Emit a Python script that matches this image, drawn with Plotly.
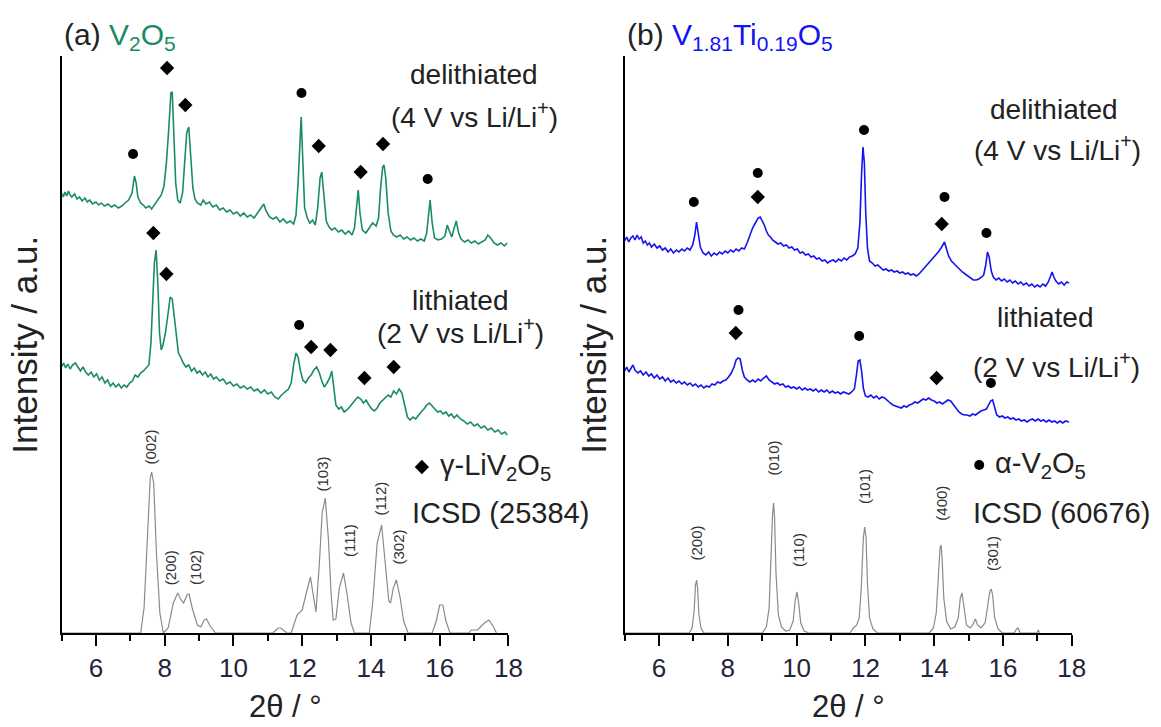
import plotly.graph_objects as go

# ---------------- data (2theta in deg, intensity in a.u., offsets included) ----------------
# Panel (a) V2O5, delithiated
a_del_x = [5.00,5.05,5.10,5.15,5.20,5.25,5.30,5.38,5.45,5.52,5.60,5.68,5.75,5.82,5.90,6.00,6.08,6.15,6.25,6.35,6.45,6.55,6.65,6.75,6.85,6.95,7.05,7.12,7.17,7.22,7.30,7.38,7.45,7.55,7.62,7.70,7.80,7.90,7.98,8.05,8.12,8.18,8.22,8.27,8.32,8.38,8.45,8.52,8.58,8.64,8.70,8.76,8.82,8.88,8.95,9.05,9.12,9.20,9.30,9.40,9.50,9.60,9.70,9.80,9.90,10.00,10.10,10.20,10.30,10.40,10.50,10.60,10.70,10.80,10.88,10.95,11.05,11.15,11.25,11.35,11.45,11.55,11.65,11.75,11.82,11.88,11.93,11.97,12.02,12.07,12.15,12.22,12.30,12.38,12.45,12.52,12.57,12.63,12.70,12.78,12.86,12.95,13.05,13.15,13.25,13.35,13.45,13.52,13.58,13.63,13.68,13.75,13.85,13.95,14.05,14.15,14.22,14.28,14.34,14.38,14.43,14.50,14.58,14.65,14.75,14.85,14.95,15.05,15.15,15.25,15.35,15.45,15.55,15.62,15.68,15.72,15.78,15.85,15.95,16.05,16.15,16.22,16.28,16.35,16.42,16.48,16.55,16.62,16.72,16.82,16.92,17.02,17.12,17.22,17.32,17.40,17.48,17.58,17.68,17.78,17.88,17.96]
a_del_y = [440,436,441,437,442,438,436,439,434,436,432,435,431,433,429,431,428,430,427,429,426,428,425,427,430,433,440,457,450,436,430,428,425,427,424,428,432,438,447,470,505,540,541,500,450,433,430,440,470,500,506,470,445,434,430,428,433,429,431,426,428,423,425,421,423,419,421,417,420,416,418,415,420,424,429,422,416,414,416,411,414,410,412,409,418,450,490,516,470,425,415,410,413,408,425,455,461,440,412,406,403,405,401,403,399,402,398,405,430,443,420,403,400,405,410,407,415,445,466,468,455,420,402,398,396,398,394,396,393,395,392,394,392,400,425,433,410,395,393,394,397,408,402,396,405,412,400,394,391,393,390,392,389,391,393,398,395,390,388,390,387,390]

# Panel (a) V2O5, lithiated
a_lit_x = [5.00,5.06,5.12,5.18,5.25,5.32,5.40,5.48,5.55,5.62,5.70,5.78,5.86,5.94,6.02,6.10,6.18,6.26,6.34,6.42,6.50,6.58,6.66,6.74,6.82,6.90,6.98,7.06,7.14,7.22,7.30,7.38,7.46,7.54,7.60,7.65,7.70,7.75,7.80,7.85,7.90,7.95,8.02,8.10,8.16,8.22,8.28,8.34,8.40,8.46,8.54,8.62,8.70,8.78,8.86,8.94,9.02,9.10,9.18,9.26,9.34,9.42,9.50,9.60,9.70,9.80,9.90,10.00,10.10,10.20,10.30,10.40,10.50,10.60,10.70,10.80,10.90,11.00,11.10,11.20,11.30,11.40,11.50,11.60,11.68,11.75,11.82,11.88,11.95,12.02,12.10,12.18,12.26,12.34,12.42,12.50,12.57,12.64,12.72,12.80,12.86,12.92,12.98,13.06,13.14,13.22,13.30,13.38,13.46,13.54,13.62,13.70,13.78,13.86,13.94,14.02,14.10,14.18,14.26,14.34,14.42,14.50,14.58,14.66,14.74,14.82,14.90,14.98,15.06,15.14,15.22,15.30,15.38,15.46,15.54,15.62,15.70,15.78,15.86,15.94,16.02,16.10,16.18,16.26,16.34,16.42,16.50,16.60,16.70,16.80,16.90,17.00,17.10,17.20,17.30,17.40,17.50,17.60,17.70,17.80,17.90,17.96]
a_lit_y = [266,270,265,269,264,268,270,266,262,266,261,258,261,256,259,253,256,250,253,247,250,246,249,245,248,246,250,252,258,256,260,262,265,268,290,330,370,383,350,300,283,288,300,320,336,334,315,295,280,276,270,266,268,262,265,260,262,258,261,256,259,254,256,252,254,249,251,247,249,245,247,244,246,242,244,240,243,239,241,236,234,238,241,244,250,268,280,276,262,253,250,255,258,263,266,260,252,246,250,255,262,245,228,224,226,221,223,226,230,233,236,234,230,233,228,224,222,225,230,233,236,238,236,242,239,244,240,228,216,213,216,214,218,221,224,228,230,227,224,221,222,219,221,217,219,215,218,214,212,209,211,207,209,205,207,203,205,201,203,199,201,198]

# Panel (a) reference: gamma-LiV2O5, ICSD (25384)
a_ref_x = [5.00,7.30,7.40,7.50,7.58,7.62,7.68,7.76,7.86,7.96,8.10,8.25,8.38,8.48,8.55,8.65,8.71,8.80,8.95,9.05,9.15,9.22,9.32,9.48,11.15,11.30,11.38,11.55,11.68,11.85,12.00,12.12,12.24,12.32,12.40,12.50,12.58,12.67,12.76,12.84,12.90,12.98,13.08,13.20,13.30,13.42,13.52,13.95,14.05,14.18,14.31,14.40,14.52,14.57,14.65,14.74,14.85,14.95,15.08,15.78,15.90,16.00,16.09,16.18,16.30,16.85,16.92,17.10,17.30,17.43,17.55,17.65]
a_ref_y = [0,0,25,95,155,161,150,80,20,0,5,30,40,33,30,38,39,25,8,6,13,14,7,0,0,5,5,0,0,18,23,40,56,38,21,70,120,135,95,40,13,14,45,60,40,10,0,0,30,90,108,75,32,30,45,53,35,12,0,0,12,28,28,12,0,0,3,3,10,13,7,0]
a_hkl = ["(002)", "(200)", "(102)", "(103)", "(111)", "(112)", "(302)"]
a_hkl_x = [7.56, 8.16, 8.88, 12.59, 13.36, 14.25, 14.80]
a_hkl_y = [186, 65, 66, 159, 93, 134, 86]

# Panel (a) phase markers
a_dia_x = [8.07, 8.60, 12.48, 13.70, 14.35, 7.67, 8.05, 12.26, 12.82, 13.81, 14.66]
a_dia_y = [565, 528, 487, 461, 489, 400, 359, 286, 283, 255, 266]
a_dot_x = [7.08, 11.98, 15.65, 11.91]
a_dot_y = [479, 540, 454, 308]

# Panel (b) V1.81Ti0.19O5, delithiated
b_del_x = [5.00,5.06,5.12,5.18,5.24,5.30,5.36,5.42,5.48,5.54,5.60,5.66,5.72,5.78,5.86,5.94,6.02,6.10,6.18,6.26,6.34,6.42,6.50,6.58,6.66,6.74,6.82,6.90,6.98,7.04,7.09,7.14,7.20,7.28,7.36,7.44,7.52,7.60,7.68,7.76,7.84,7.92,8.00,8.08,8.16,8.24,8.32,8.40,8.48,8.56,8.64,8.72,8.80,8.88,8.94,9.00,9.06,9.12,9.18,9.24,9.30,9.38,9.46,9.54,9.62,9.70,9.78,9.86,9.94,10.02,10.10,10.18,10.26,10.34,10.42,10.50,10.58,10.66,10.74,10.82,10.90,10.98,11.06,11.14,11.22,11.30,11.38,11.46,11.54,11.62,11.70,11.78,11.84,11.89,11.93,11.97,12.01,12.06,12.12,12.20,12.28,12.36,12.44,12.52,12.60,12.68,12.76,12.84,12.92,13.00,13.08,13.16,13.24,13.32,13.40,13.48,13.56,13.64,13.72,13.80,13.88,13.96,14.04,14.12,14.20,14.26,14.30,14.36,14.42,14.50,14.58,14.66,14.74,14.82,14.90,14.98,15.06,15.14,15.22,15.30,15.38,15.44,15.50,15.55,15.60,15.66,15.72,15.80,15.88,15.96,16.04,16.12,16.20,16.28,16.36,16.44,16.52,16.60,16.68,16.76,16.84,16.92,17.00,17.08,17.16,17.24,17.32,17.38,17.43,17.48,17.54,17.62,17.70,17.78,17.86,17.92]
b_del_y = [392,396,391,395,397,393,398,394,396,390,392,388,390,386,389,385,387,383,385,381,384,380,383,381,384,382,385,383,388,398,411,400,386,380,378,381,377,380,378,381,379,382,380,383,381,384,382,385,384,390,398,405,410,415,416,412,408,402,398,396,393,391,389,390,387,388,385,386,383,384,380,381,378,379,376,377,374,375,372,373,370,372,373,371,374,372,375,373,376,377,379,385,410,460,486,470,420,385,372,370,367,368,365,363,364,362,363,361,362,360,361,359,360,358,359,357,359,362,366,368,371,374,378,381,385,389,391,384,377,372,369,366,363,361,359,357,355,353,353,354,356,358,368,381,376,362,356,353,355,352,354,351,353,350,352,349,351,348,350,347,349,346,348,346,349,347,351,356,361,356,352,349,351,348,351,350]

# Panel (b) V1.81Ti0.19O5, lithiated
b_lit_x = [5.00,5.06,5.12,5.18,5.24,5.30,5.38,5.46,5.54,5.62,5.70,5.78,5.86,5.94,6.02,6.10,6.18,6.26,6.34,6.42,6.50,6.58,6.66,6.74,6.82,6.90,6.98,7.06,7.14,7.22,7.30,7.38,7.46,7.54,7.62,7.70,7.78,7.86,7.94,8.02,8.10,8.18,8.24,8.30,8.36,8.42,8.48,8.56,8.64,8.72,8.80,8.88,8.96,9.04,9.12,9.20,9.28,9.36,9.44,9.52,9.60,9.68,9.76,9.84,9.92,10.00,10.08,10.16,10.24,10.32,10.40,10.48,10.56,10.64,10.72,10.80,10.88,10.96,11.04,11.12,11.20,11.28,11.36,11.44,11.52,11.60,11.68,11.74,11.79,11.84,11.89,11.94,12.00,12.08,12.16,12.24,12.32,12.40,12.48,12.56,12.64,12.72,12.80,12.88,12.96,13.04,13.12,13.20,13.28,13.36,13.44,13.52,13.60,13.68,13.76,13.84,13.92,14.00,14.08,14.16,14.24,14.32,14.40,14.48,14.56,14.64,14.72,14.80,14.88,14.96,15.04,15.12,15.20,15.28,15.36,15.44,15.52,15.58,15.64,15.70,15.76,15.82,15.90,15.98,16.06,16.14,16.22,16.30,16.38,16.46,16.54,16.62,16.70,16.78,16.86,16.94,17.02,17.10,17.18,17.26,17.34,17.42,17.50,17.58,17.66,17.74,17.82,17.92]
b_lit_y = [262,266,261,265,268,263,260,262,258,261,257,259,255,258,254,256,252,255,251,253,250,252,249,251,248,250,247,249,246,248,245,247,246,249,248,251,250,252,253,256,260,266,273,275,274,263,256,253,251,253,251,254,252,255,257,253,251,249,250,248,249,246,247,245,246,244,246,243,245,243,244,242,244,241,243,241,243,240,242,240,241,239,241,240,239,241,244,258,272,273,262,245,237,236,238,235,237,234,236,235,232,230,228,227,226,225,227,226,228,229,231,230,232,234,233,235,233,232,230,231,229,231,233,232,228,224,221,219,218,218,217,219,218,220,222,223,224,228,232,233,226,218,216,217,215,216,214,215,213,214,212,213,211,213,214,212,214,212,213,211,213,211,212,210,212,210,212,211]

# Panel (b) reference: alpha-V2O5, ICSD (60676)
b_ref_x = [5.00,6.88,6.96,7.02,7.06,7.09,7.12,7.16,7.22,7.30,9.00,9.12,9.20,9.26,9.30,9.33,9.36,9.40,9.47,9.56,9.68,9.80,9.90,9.96,10.01,10.06,10.12,10.22,10.35,11.55,11.65,11.75,11.82,11.88,11.94,11.98,12.02,12.06,12.12,12.22,12.35,13.85,13.98,14.06,14.12,14.17,14.20,14.23,14.28,14.36,14.48,14.60,14.70,14.76,14.81,14.86,14.94,15.05,15.12,15.20,15.26,15.36,15.48,15.56,15.62,15.66,15.70,15.76,15.86,15.98,16.32,16.40,16.44,16.50,16.98,17.03,17.06]
b_ref_y = [0,0,5,22,48,53,45,18,5,0,0,6,25,90,118,130,115,60,18,6,2,3,12,33,41,30,10,2,0,0,5,8,15,45,95,106,95,50,15,4,0,0,5,20,60,85,88,75,35,12,4,6,15,35,40,28,8,5,8,14,8,5,10,28,42,44,38,15,4,0,0,4,5,0,0,3,0]
b_hkl = ["(200)", "(010)", "(110)", "(101)", "(400)", "(301)"]
b_hkl_x = [7.06, 9.30, 10.04, 11.96, 14.19, 15.68]
b_hkl_y = [90, 175, 83, 146, 130, 80]

# Panel (b) phase markers
b_dot_x = [7.01, 8.87, 11.96, 14.30, 15.52, 8.31, 11.82, 15.65]
b_dot_y = [431, 460, 503, 436, 400, 323, 297, 250]
b_dia_x = [8.87, 14.22, 8.23, 14.07]
b_dia_y = [436, 409, 300, 255]

# ---------------- style ----------------
GREEN = "#1a8c62"
BLUE = "#1414f0"
GRAY = "#8a8a8a"
TXT = "#222222"
FONT = "Liberation Sans, Arial, sans-serif"

fig = go.Figure()

def line(x, y, color, w, xa, ya):
    fig.add_trace(go.Scatter(x=x, y=y, mode="lines", line=dict(color=color, width=w),
                             xaxis=xa, yaxis=ya, showlegend=False, hoverinfo="skip"))

def marks(x, y, symbol, size, xa, ya):
    fig.add_trace(go.Scatter(x=x, y=y, mode="markers",
                             marker=dict(symbol=symbol, size=size, color="black", line=dict(width=0)),
                             xaxis=xa, yaxis=ya, showlegend=False, hoverinfo="skip", cliponaxis=False))

line(a_ref_x, a_ref_y, GRAY, 1.2, "x", "y")
line(a_lit_x, a_lit_y, GREEN, 1.6, "x", "y")
line(a_del_x, a_del_y, GREEN, 1.6, "x", "y")
marks(a_dia_x, a_dia_y, "diamond", 11, "x", "y")
marks(a_dot_x, a_dot_y, "circle", 10, "x", "y")
marks([15.48], [166], "diamond", 11, "x", "y")

line(b_ref_x, b_ref_y, GRAY, 1.2, "x2", "y2")
line(b_lit_x, b_lit_y, BLUE, 1.6, "x2", "y2")
line(b_del_x, b_del_y, BLUE, 1.6, "x2", "y2")
marks(b_dot_x, b_dot_y, "circle", 10, "x2", "y2")
marks(b_dia_x, b_dia_y, "diamond", 11, "x2", "y2")
marks([15.31], [168], "circle", 10, "x2", "y2")

W, H = 1161, 727
def px(xp): return xp / W
def py(yp): return (H - yp) / H

xcommon = dict(range=[5, 18], tickvals=[6, 8, 10, 12, 14, 16, 18], ticks="outside", ticklen=11,
               tickwidth=1.5, tickcolor="black", showline=True, linecolor="black", linewidth=1.5,
               showgrid=False, zeroline=False, tickfont=dict(size=26, color="#24243a", family=FONT),
               minor=dict(tickvals=[5, 7, 9, 11, 13, 15, 17], ticks="outside", ticklen=6,
                          tickwidth=1.5, tickcolor="black", showgrid=False),
               fixedrange=True)
ycommon = dict(range=[0, 577], showticklabels=False, ticks="", showline=True, linecolor="black",
               linewidth=1.5, showgrid=False, zeroline=False, fixedrange=True)

fig.update_layout(
    width=W, height=H, margin=dict(l=0, r=0, t=0, b=0),
    paper_bgcolor="white", plot_bgcolor="white",
    font=dict(family=FONT, color=TXT, size=26),
    xaxis=dict(domain=[px(62.3), px(514.7)], anchor="y", **xcommon),
    yaxis=dict(domain=[py(633), py(56)], anchor="x", **ycommon),
    xaxis2=dict(domain=[px(632.3), px(1084.8)], anchor="y2", **xcommon),
    yaxis2=dict(domain=[py(633), py(56)], anchor="x2", **ycommon),
)

ann = []
def A(text, x, y, xref, yref, size=28, xanchor="center", yanchor="middle", angle=0, color=TXT):
    ann.append(dict(text=text, x=x, y=y, xref=xref, yref=yref, showarrow=False, xanchor=xanchor,
                    yanchor=yanchor, textangle=angle, font=dict(size=size, color=color, family=FONT)))

# panel titles
A("(a) <span style='color:%s'>V<sub>2</sub>O<sub>5</sub></span>" % GREEN, px(63), py(37), "paper", "paper", size=30, xanchor="left")
A("(b) <span style='color:%s'>V<sub>1.81</sub>Ti<sub>0.19</sub>O<sub>5</sub></span>" % BLUE, px(633), py(37), "paper", "paper", size=30, xanchor="left")

# axis titles
for xc in (24, 600):
    A("Intensity / a.u.", px(xc), py(345), "paper", "paper", size=35, angle=-90)
for xc in (288.5, 858.5):
    A("2θ / °", px(xc), py(706), "paper", "paper", size=31)

# sample labels
A("delithiated", 17.0, 558, "x", "y")
A("(4 V vs Li/Li<sup>+</sup>)", 17.0, 518, "x", "y")
A("lithiated", 16.6, 333, "x", "y")
A("(2 V vs Li/Li<sup>+</sup>)", 16.6, 302, "x", "y")
A("delithiated", 17.49, 523, "x2", "y2")
A("(4 V vs Li/Li<sup>+</sup>)", 17.60, 485, "x2", "y2")
A("lithiated", 17.23, 316, "x2", "y2")
A("(2 V vs Li/Li<sup>+</sup>)", 17.55, 268, "x2", "y2")

# reference legends
A("γ-LiV<sub>2</sub>O<sub>5</sub>", 15.95, 166, "x", "y", size=29, xanchor="left")
A("ICSD (25384)", 15.14, 120, "x", "y", size=29, xanchor="left")
A("α-V<sub>2</sub>O<sub>5</sub>", 15.72, 168, "x2", "y2", size=29, xanchor="left")
A("ICSD (60676)", 15.08, 120, "x2", "y2", size=29, xanchor="left")

# hkl labels
for t, x, y in zip(a_hkl, a_hkl_x, a_hkl_y):
    A(t, x, y, "x", "y", size=15, angle=-90, color="#333333")
for t, x, y in zip(b_hkl, b_hkl_x, b_hkl_y):
    A(t, x, y, "x2", "y2", size=15, angle=-90, color="#333333")

fig.update_layout(annotations=ann)
fig.write_html("out.html")
